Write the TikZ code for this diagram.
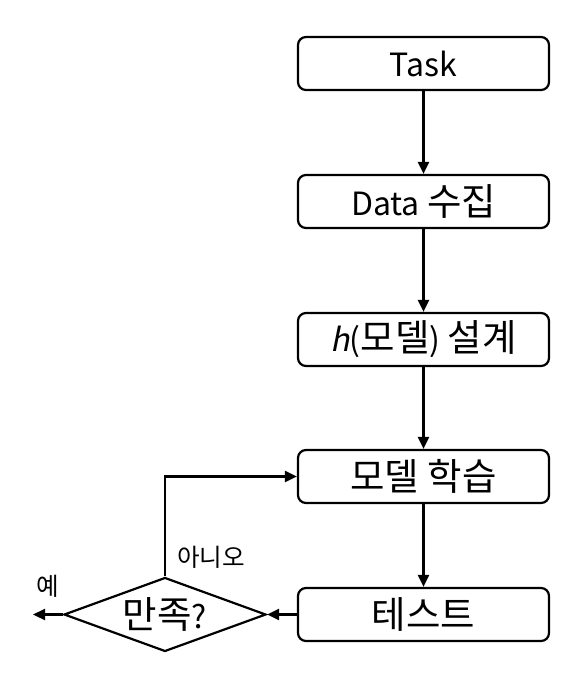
\documentclass[tikz,border=0pt]{standalone}
\usepackage{fontspec}
\setmainfont{Noto Sans CJK KR}
\newfontfamily\kr[Scale=1.17]{Noto Sans CJK KR}
\newfontfamily\slantfont[FakeSlant=0.2]{Noto Sans CJK KR}
\usetikzlibrary{shapes.geometric,arrows.meta}
\begin{document}
\begin{tikzpicture}[x=1pt,y=-1pt,
  stepbox/.style={draw,line width=2.2pt,rounded corners=8pt,minimum width=251pt,minimum height=53pt,inner sep=0pt,font=\fontsize{32}{38}\selectfont},
  decbox/.style={draw,line width=2.2pt,diamond,minimum width=202pt,minimum height=74pt,inner sep=0pt,shape aspect=2.73,font=\fontsize{32}{38}\selectfont},
  conn/.style={line width=2.2pt,-{Triangle[length=12pt,width=11pt]}},
  lbl/.style={font=\fontsize{21}{26}\selectfont,inner sep=0pt}]
\useasboundingbox (0,0) rectangle (561,690);
\node[stepbox] (task) at (423.5,63.5) {Task};
\node[stepbox] (data) at (423.5,201.5) {Data {\kr 수집}};
\node[stepbox] (design) at (423.5,339.5) {{\slantfont h}({\kr 모델}) {\kr 설계}};
\node[stepbox] (train) at (423.5,476.5) {\kr 모델 학습};
\node[stepbox] (test) at (423.5,614.5) {\kr 테스트};
\node[decbox] (ok) at (165,614.5) {{\kr 만족}?};
\coordinate (yesend) at (33,614.5);
\draw[conn] (task) -- (data);
\draw[conn] (data) -- (design);
\draw[conn] (design) -- (train);
\draw[conn] (train) -- (test);
\draw[conn] (test) -- (ok);
\draw[conn] (ok.west) -- (yesend);
\draw[conn] (ok.north) |- (train.west);
\node[lbl] (no) at (211,557) {\kr 아니오};
\node[lbl] (yes) at (48,586) {\kr 예};
\end{tikzpicture}
\end{document}
